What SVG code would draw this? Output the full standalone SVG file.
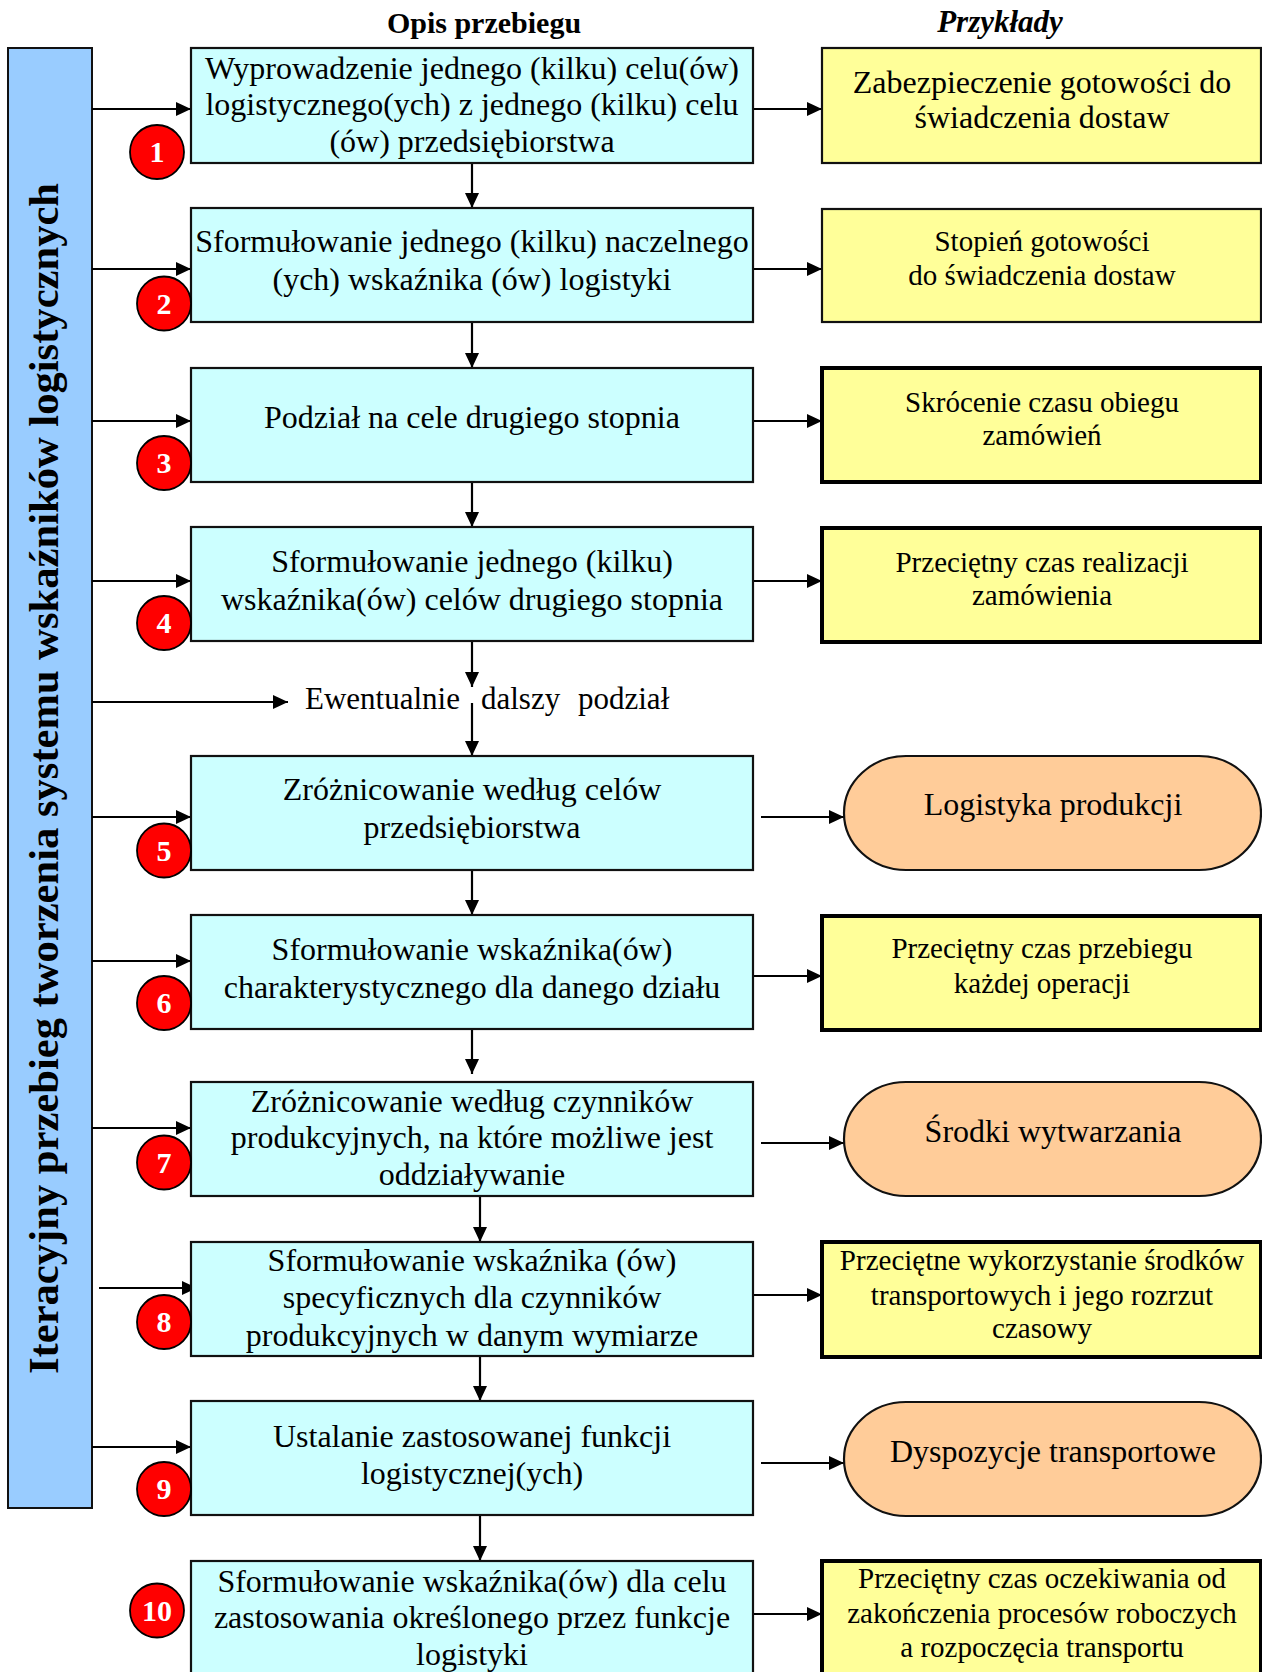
<svg xmlns="http://www.w3.org/2000/svg" width="1262" height="1672" viewBox="0 0 1262 1672">
<defs>
<marker id="ah" markerUnits="userSpaceOnUse" markerWidth="16" markerHeight="14" refX="15" refY="7" orient="auto">
<path d="M0,0 L15,7 L0,14 Z" fill="#000"/>
</marker>
</defs>
<style>
text{font-family:"Liberation Serif","Times New Roman",serif;fill:#000}
.main{fill:#CCFFFF;stroke:#111;stroke-width:2.2}
.yel{fill:#FFFF99;stroke:#111;stroke-width:2.2}
.yelb{fill:#FFFF99;stroke:#000;stroke-width:4}
.oval{fill:#FFCC99;stroke:#111;stroke-width:2.2}
.mt{font-size:32px;text-anchor:middle}
.yt{font-size:29px;text-anchor:middle}
.ot{font-size:32px;text-anchor:middle}
.hd{font-size:30px;font-weight:bold;text-anchor:middle}
.num circle{fill:#FF0000;stroke:#000;stroke-width:1.8}
.num text{font-size:30px;font-weight:bold;fill:#fff;text-anchor:middle}
.c line{stroke:#000;stroke-width:2.2;marker-end:url(#ah)}
</style>
<rect width="1262" height="1672" fill="#fff"/>

<g id="headers">
<text class="hd" x="484" y="33">Opis przebiegu</text>
<text class="hd" x="1000" y="32" style="font-style:italic;font-size:31px">Przykłady</text>
</g>

<g id="sidebar">
<rect x="8" y="48" width="84" height="1460" fill="#99CCFF" stroke="#111" stroke-width="2"/>
<text transform="translate(58,778.5) rotate(-90)" font-size="43" font-weight="bold" text-anchor="middle" textLength="1191" lengthAdjust="spacingAndGlyphs">Iteracyjny przebieg tworzenia systemu wskaźników logistycznych</text>
</g>

<g id="connectors" class="c">
<line x1="92" y1="109" x2="191" y2="109"/>
<line x1="92" y1="269" x2="191" y2="269"/>
<line x1="92" y1="421" x2="191" y2="421"/>
<line x1="92" y1="581" x2="191" y2="581"/>
<line x1="92" y1="702" x2="288" y2="702"/>
<line x1="92" y1="817" x2="191" y2="817"/>
<line x1="92" y1="961" x2="191" y2="961"/>
<line x1="92" y1="1128" x2="191" y2="1128"/>
<line x1="99" y1="1288" x2="197" y2="1288"/>
<line x1="92" y1="1447" x2="191" y2="1447"/>

<line x1="753" y1="109" x2="822" y2="109"/>
<line x1="753" y1="269" x2="822" y2="269"/>
<line x1="753" y1="421" x2="822" y2="421"/>
<line x1="753" y1="581" x2="822" y2="581"/>
<line x1="761" y1="817" x2="844" y2="817"/>
<line x1="753" y1="976" x2="822" y2="976"/>
<line x1="761" y1="1143" x2="844" y2="1143"/>
<line x1="753" y1="1295" x2="822" y2="1295"/>
<line x1="761" y1="1463" x2="844" y2="1463"/>
<line x1="753" y1="1614" x2="822" y2="1614"/>

<line x1="472" y1="163" x2="472" y2="208"/>
<line x1="472" y1="322" x2="472" y2="368"/>
<line x1="472" y1="482" x2="472" y2="527"/>
<line x1="472" y1="641" x2="472" y2="687"/>
<line x1="472" y1="703" x2="472" y2="756"/>
<line x1="472" y1="870" x2="472" y2="915"/>
<line x1="472" y1="1029" x2="472" y2="1074"/>
<line x1="480" y1="1196" x2="480" y2="1242"/>
<line x1="480" y1="1356" x2="480" y2="1401"/>
<line x1="480" y1="1516" x2="480" y2="1561"/>
</g>

<g id="ewentualnie">
<text x="305" y="709" font-size="31">Ewentualnie<tspan x="481">dalszy</tspan><tspan x="578">podział</tspan></text>
</g>

<g id="step1">
<rect class="main" x="191" y="48" width="562" height="115"/>
<text class="mt" x="472" y="79">Wyprowadzenie jednego (kilku) celu(ów)</text>
<text class="mt" x="472" y="115">logistycznego(ych) z jednego (kilku) celu</text>
<text class="mt" x="472" y="152">(ów) przedsiębiorstwa</text>
</g>
<g id="step2">
<rect class="main" x="191" y="208" width="562" height="114"/>
<text class="mt" x="472" y="252">Sformułowanie jednego (kilku) naczelnego</text>
<text class="mt" x="472" y="290">(ych) wskaźnika (ów) logistyki</text>
</g>
<g id="step3">
<rect class="main" x="191" y="368" width="562" height="114"/>
<text class="mt" x="472" y="428">Podział na cele drugiego stopnia</text>
</g>
<g id="step4">
<rect class="main" x="191" y="527" width="562" height="114"/>
<text class="mt" x="472" y="572">Sformułowanie jednego (kilku)</text>
<text class="mt" x="472" y="610">wskaźnika(ów) celów drugiego stopnia</text>
</g>
<g id="step5">
<rect class="main" x="191" y="756" width="562" height="114"/>
<text class="mt" x="472" y="800">Zróżnicowanie według celów</text>
<text class="mt" x="472" y="838">przedsiębiorstwa</text>
</g>
<g id="step6">
<rect class="main" x="191" y="915" width="562" height="114"/>
<text class="mt" x="472" y="960">Sformułowanie wskaźnika(ów)</text>
<text class="mt" x="472" y="998">charakterystycznego dla danego działu</text>
</g>
<g id="step7">
<rect class="main" x="191" y="1082" width="562" height="114"/>
<text class="mt" x="472" y="1112">Zróżnicowanie według czynników</text>
<text class="mt" x="472" y="1148">produkcyjnych, na które możliwe jest</text>
<text class="mt" x="472" y="1185">oddziaływanie</text>
</g>
<g id="step8">
<rect class="main" x="191" y="1242" width="562" height="114"/>
<text class="mt" x="472" y="1271">Sformułowanie wskaźnika (ów)</text>
<text class="mt" x="472" y="1308">specyficznych dla czynników</text>
<text class="mt" x="472" y="1346">produkcyjnych w danym wymiarze</text>
</g>
<g id="step9">
<rect class="main" x="191" y="1401" width="562" height="114"/>
<text class="mt" x="472" y="1447">Ustalanie zastosowanej funkcji</text>
<text class="mt" x="472" y="1484">logistycznej(ych)</text>
</g>
<g id="step10">
<rect class="main" x="191" y="1561" width="562" height="130"/>
<text class="mt" x="472" y="1592">Sformułowanie wskaźnika(ów) dla celu</text>
<text class="mt" x="472" y="1628">zastosowania określonego przez funkcje</text>
<text class="mt" x="472" y="1665">logistyki</text>
</g>

<g id="ex1">
<rect class="yel" x="822" y="48" width="439" height="115"/>
<text class="yt" x="1042" y="93" style="font-size:32px">Zabezpieczenie gotowości do</text>
<text class="yt" x="1042" y="128" style="font-size:32px">świadczenia dostaw</text>
</g>
<g id="ex2">
<rect class="yel" x="822" y="209" width="439" height="113"/>
<text class="yt" x="1042" y="251">Stopień gotowości</text>
<text class="yt" x="1042" y="285">do świadczenia dostaw</text>
</g>
<g id="ex3">
<rect class="yelb" x="822" y="368" width="439" height="114"/>
<text class="yt" x="1042" y="412">Skrócenie czasu obiegu</text>
<text class="yt" x="1042" y="445">zamówień</text>
</g>
<g id="ex4">
<rect class="yelb" x="822" y="528" width="439" height="114"/>
<text class="yt" x="1042" y="572">Przeciętny czas realizacji</text>
<text class="yt" x="1042" y="605">zamówienia</text>
</g>
<g id="ex5">
<rect class="oval" x="844" y="756" width="417" height="114" rx="62" ry="57"/>
<text class="ot" x="1053" y="815">Logistyka produkcji</text>
</g>
<g id="ex6">
<rect class="yelb" x="822" y="916" width="439" height="114"/>
<text class="yt" x="1042" y="958">Przeciętny czas przebiegu</text>
<text class="yt" x="1042" y="993">każdej operacji</text>
</g>
<g id="ex7">
<rect class="oval" x="844" y="1082" width="417" height="114" rx="62" ry="57"/>
<text class="ot" x="1053" y="1142">Środki wytwarzania</text>
</g>
<g id="ex8">
<rect class="yelb" x="822" y="1242" width="439" height="115"/>
<text class="yt" x="1042" y="1270">Przeciętne wykorzystanie środków</text>
<text class="yt" x="1042" y="1305">transportowych i jego rozrzut</text>
<text class="yt" x="1042" y="1338">czasowy</text>
</g>
<g id="ex9">
<rect class="oval" x="844" y="1402" width="417" height="114" rx="62" ry="57"/>
<text class="ot" x="1053" y="1462">Dyspozycje transportowe</text>
</g>
<g id="ex10">
<rect class="yelb" x="822" y="1561" width="439" height="130"/>
<text class="yt" x="1042" y="1588">Przeciętny czas oczekiwania od</text>
<text class="yt" x="1042" y="1623">zakończenia procesów roboczych</text>
<text class="yt" x="1042" y="1657">a rozpoczęcia transportu</text>
</g>

<g id="n1" class="num"><circle cx="157" cy="152" r="27"/><text x="157" y="162">1</text></g>
<g id="n2" class="num"><circle cx="164" cy="303.5" r="27"/><text x="164" y="314">2</text></g>
<g id="n3" class="num"><circle cx="164" cy="463" r="27"/><text x="164" y="473">3</text></g>
<g id="n4" class="num"><circle cx="164" cy="623" r="27"/><text x="164" y="633">4</text></g>
<g id="n5" class="num"><circle cx="164" cy="850.5" r="27"/><text x="164" y="861">5</text></g>
<g id="n6" class="num"><circle cx="164" cy="1003" r="27"/><text x="164" y="1013">6</text></g>
<g id="n7" class="num"><circle cx="164" cy="1162.5" r="27"/><text x="164" y="1173">7</text></g>
<g id="n8" class="num"><circle cx="164" cy="1322" r="27"/><text x="164" y="1332">8</text></g>
<g id="n9" class="num"><circle cx="164" cy="1489" r="27"/><text x="164" y="1499">9</text></g>
<g id="n10" class="num"><circle cx="157" cy="1610.5" r="27"/><text x="157" y="1621">10</text></g>
</svg>
